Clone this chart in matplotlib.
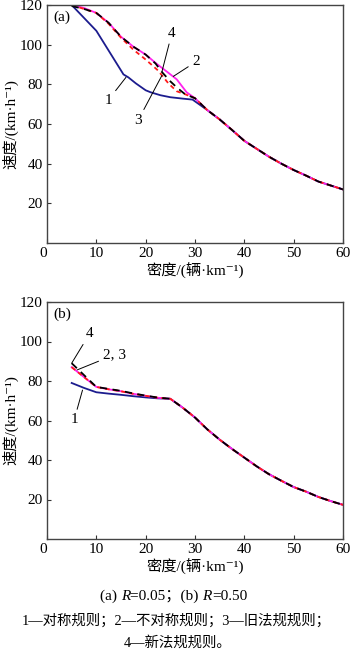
import numpy as np
import matplotlib
matplotlib.use('Agg')
import matplotlib.pyplot as plt

plt.rcParams['font.family'] = ['Liberation Serif', 'Noto Sans CJK SC', 'DejaVu Serif']

# ---- panel (a): R = 0.05 ----
dens_a1 = [5, 7.5, 10, 12.5, 15.5, 16.5, 18, 20, 21, 23, 25, 27.5, 29.5,
           32.5, 35, 37.5, 40, 42.5, 45, 47.5, 50, 52.5, 55, 57.5, 60]
speed_a1 = [120, 113.5, 107, 97, 85, 83.5, 80.5, 77, 76, 74.5, 73.5, 72.8, 72.3,
            67, 62.3, 57, 51.5, 47.5, 43.5, 40, 36.8, 34, 31, 29, 27]

dens_a2 = [5, 7.5, 10, 12.5, 15, 17.5, 20, 22.3, 24.4, 26.3, 28.3, 30,
           32.5, 35, 37.5, 40, 42.5, 45, 47.5, 50, 52.5, 55, 57.5, 60]
speed_a2 = [120, 118.5, 116, 111, 104, 99, 95, 90.2, 86.2, 82.5, 76, 73,
            67, 62.3, 57, 51.5, 47.5, 43.5, 40, 36.8, 34, 31, 29, 27]

dens_a3 = [5, 7.5, 10, 12.5, 15, 17.5, 20, 22.5, 24.6, 26.3, 28, 30,
           32.5, 35, 37.5, 40, 42.5, 45, 47.5, 50, 52.5, 55, 57.5, 60]
speed_a3 = [120, 118, 116, 110.5, 103.5, 97.5, 92.5, 87, 80.5, 76.5, 75, 73,
            67, 62.3, 57, 51.5, 47.5, 43.5, 40, 36.8, 34, 31, 29, 27]

dens_a4 = [5, 7.5, 10, 12.5, 15, 17.5, 20, 22, 23.3, 25, 26.5, 28, 30,
           32.5, 35, 37.5, 40, 42.5, 45, 47.5, 50, 52.5, 55, 57.5, 60]
speed_a4 = [119.5, 118, 116, 111, 104, 99, 95, 90.5, 86.2, 81.5, 78, 75, 73,
            67, 62.3, 57, 51.5, 47.5, 43.5, 40, 36.8, 34, 31, 29, 27]

# ---- panel (b): R = 0.50 ----
dens_b1 = [5, 7.5, 10, 12.5, 15, 17.5, 20, 22.5, 25, 27.5, 30, 32.5, 35,
           37.5, 40, 42.5, 45, 47.5, 50, 52.5, 55, 57.5, 60]
speed_b1 = [79, 76.5, 74.3, 73.6, 73, 72.3, 71.7, 71.2, 71, 66.5, 61.5, 55.5, 50.3,
            45.6, 41.2, 36.8, 32.8, 29.5, 26.3, 24, 21.3, 19.2, 17.3]

dens_b2 = [5, 7.5, 10, 12.5, 15, 17.5, 20, 22.5, 25, 27.5, 30, 32.5, 35,
           37.5, 40, 42.5, 45, 47.5, 50, 52.5, 55, 57.5, 60]
speed_b2 = [87, 82, 77, 75.8, 74.8, 73.5, 72.5, 71.5, 71, 66.5, 61.5, 55.5, 50.3,
            45.6, 41.2, 36.8, 32.8, 29.5, 26.3, 24, 21.3, 19.2, 17.3]
speed_b3 = [87, 82, 77, 75.8, 74.8, 73.5, 72.5, 71.5, 71, 66.5, 61.5, 55.5, 50.3,
            45.6, 41.2, 36.8, 32.8, 29.5, 26.3, 24, 21.3, 19.2, 17.3]
speed_b4 = [89, 83, 77, 76, 75, 73.7, 72.6, 71.6, 71, 66.5, 61.5, 55.5, 50.3,
            45.6, 41.2, 36.8, 32.8, 29.5, 26.3, 24, 21.3, 19.2, 17.3]

x_ticks = [0, 10, 20, 30, 40, 50, 60]
y_ticks = [20, 40, 60, 80, 100, 120]

blue = '#1c1c8e'
magenta = '#ff22ee'
red = '#ff1a1a'


def style_axes(ax, tag):
    ax.set_xlim(0, 60)
    ax.set_ylim(0, 120)
    ax.set_xticks(x_ticks)
    ax.set_yticks(y_ticks)
    ax.tick_params(direction='in', length=3, width=0.8, labelsize=11, pad=3,
                   colors='#333333', labelcolor='black')
    for s in ax.spines.values():
        s.set_color('#444444')
        s.set_linewidth(1.0)
    ax.xaxis.get_ticklabels()[0].set_horizontalalignment('right')
    ax.set_xlabel('密度/(辆·km⁻¹)', fontsize=11, labelpad=2)
    ax.set_ylabel('速度/(km·h⁻¹)', fontsize=11, labelpad=1)
    ax.text(0.02, 0.975, tag, transform=ax.transAxes, va='top', ha='left', fontsize=11)


def pointer(ax, label, xy, xytext):
    ax.annotate(label, xy=xy, xytext=xytext, ha='center', va='center', fontsize=11,
                arrowprops=dict(arrowstyle='-', lw=0.7, color='black',
                                shrinkA=1, shrinkB=0))


fig = plt.figure(figsize=(3.5, 6.55), dpi=100)
ax1 = fig.add_axes([47/350, 1-243/655, 296/350, 238/655])
ax2 = fig.add_axes([47/350, 1-539/655, 296/350, 237/655])

ax1.plot(dens_a1, speed_a1, color=blue, lw=1.3)
ax1.plot(dens_a2, speed_a2, color=magenta, lw=1.3)
ax1.plot(dens_a3, speed_a3, color=red, lw=1.3, dashes=(2.5, 2))
ax1.plot(dens_a4, speed_a4, color='black', lw=1.3, dashes=(4, 3))
style_axes(ax1, '(a)')
pointer(ax1, '1', (16, 83.5), (12.4, 72))
pointer(ax1, '2', (25.6, 84), (30.2, 91.4))
pointer(ax1, '3', (23.3, 84.5), (18.5, 62))
pointer(ax1, '4', (23.3, 86.4), (25.3, 105.7))

ax2.plot(dens_b1, speed_b1, color=blue, lw=1.3)
ax2.plot(dens_b2, speed_b2, color=magenta, lw=1.3)
ax2.plot(dens_b2, speed_b3, color=red, lw=1.3, dashes=(2.5, 2))
ax2.plot(dens_b2, speed_b4, color='black', lw=1.3, dashes=(4, 3))
style_axes(ax2, '(b)')
pointer(ax2, '4', (5, 89), (8.6, 103.8))
pointer(ax2, '2, 3', (6.1, 85.6), (13.6, 93.2))
pointer(ax2, '1', (7.2, 75.4), (5.5, 60.3))

# caption, first line pieced together so R can be italic
pieces = [('(a) ', 'normal'), ('R', 'italic'), ('=0.05；(b) ', 'normal'),
          ('R', 'italic'), ('=0.50', 'normal')]
prev = fig.text(100/350, 1-603/655, pieces[0][0], fontsize=11, va='bottom', ha='left')
for txt, st in pieces[1:]:
    prev = ax2.annotate(txt, xy=(1, 0), xycoords=prev, va='bottom', ha='left',
                        fontsize=11, style=st, annotation_clip=False)

fig.text(176/350, 1-621/655, '1—对称规则；2—不对称规则；3—旧法规规则；',
         fontsize=10.4, ha='center', va='center')
fig.text(178/350, 1-643/655, '4—新法规规则。', fontsize=10.4, ha='center', va='center')

fig.savefig('out.png', dpi=100)
